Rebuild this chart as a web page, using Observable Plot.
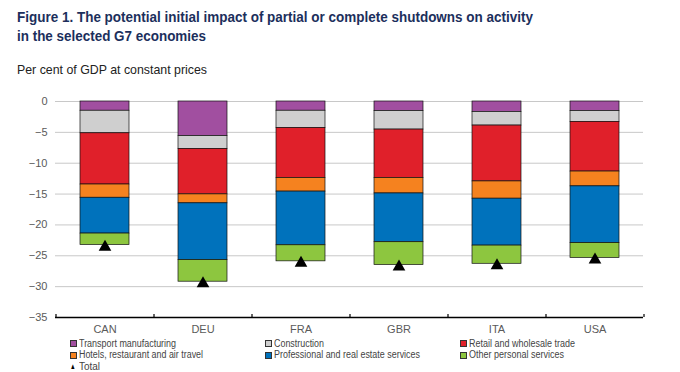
<!DOCTYPE html>
<html>
<head>
<meta charset="utf-8">
<script src="https://cdn.jsdelivr.net/npm/d3@7"></script>
<script src="https://cdn.jsdelivr.net/npm/@observablehq/plot@0.6"></script>
<style>
  html, body { margin: 0; padding: 0; background: #fff; }
  body { width: 680px; height: 372px; position: relative; overflow: hidden; font-family: "Liberation Sans", Arial, sans-serif; }
  .fit { position: absolute; white-space: nowrap; transform-origin: 0 0; display: inline-block; }
  .title { font-weight: bold; font-size: 15.5px; line-height: 18px; color: #1c2f5c; }
  .sub { font-size: 13px; line-height: 15px; color: #222; }
  .leg { font-size: 10px; line-height: 11.5px; color: #444; }
  .sw { position: absolute; width: 5px; height: 5px; border: 1px solid #333; }
  #chart { position: absolute; left: 0; top: 85px; }
</style>
</head>
<body>
<div id="chart"></div>
<script>
const countries = ["CAN", "DEU", "FRA", "GBR", "ITA", "USA"];
const sectors = [
  "Transport manufacturing",
  "Construction",
  "Retail and wholesale trade",
  "Hotels, restaurant and air travel",
  "Professional and real estate services",
  "Other personal services"
];
const sectorColors = ["#a14fa0", "#cfcfcf", "#e0202a", "#f5821f", "#0072bc", "#8dc63f"];
const transport    = [-1.5, -5.6, -1.5, -1.55, -1.7, -1.55];
const construction = [-3.65, -2.1, -2.8, -3.0, -2.2, -1.75];
const retail       = [-8.3, -7.35, -8.1, -7.85, -9.05, -8.05];
const hotels       = [-2.15, -1.45, -2.2, -2.5, -2.8, -2.4];
const professional = [-5.8, -9.2, -8.7, -7.9, -7.6, -9.2];
const otherPersonal = [-1.85, -3.5, -2.6, -3.7, -2.95, -2.4];
const totals       = [-23.3, -29.2, -25.9, -26.5, -26.3, -25.35];
const yTicks = [0, -5, -10, -15, -20, -25, -30, -35];

const titleLines = [
  "Figure 1. The potential initial impact of partial or complete shutdowns on activity",
  "in the selected G7 economies"
];
const subtitle = "Per cent of GDP at constant prices";

const series = [transport, construction, retail, hotels, professional, otherPersonal];
const rows = [];
countries.forEach((c, i) => {
  series.forEach((s, j) => rows.push({country: c, sector: sectors[j], value: s[i]}));
});
const totalRows = countries.map((c, i) => ({country: c, total: totals[i]}));

const chart = Plot.plot({
  width: 680,
  height: 255,
  marginTop: 16,
  marginBottom: 23,
  marginLeft: 55,
  marginRight: 37,
  style: {fontFamily: "'Liberation Sans', Arial, sans-serif", background: "transparent"},
  x: {domain: countries, paddingInner: 0.5, paddingOuter: 0.25, label: null},
  y: {domain: [-35, 0], label: null},
  color: {domain: sectors, range: sectorColors},
  marks: [
    Plot.gridY(yTicks.filter(t => t > -35), {stroke: "#c8c8c8", strokeOpacity: 1, strokeWidth: 1}),
    Plot.axisY({ticks: yTicks, tickSize: 0, tickPadding: 8, fontSize: 11, fill: "#5a5a5a", label: null}),
    Plot.axisX({tickSize: 0, tickPadding: 8, fontSize: 11, fill: "#5a5a5a", label: null}),
    Plot.barY(rows, {x: "country", y: "value", fill: "sector", stroke: "#111", strokeWidth: 0.7}),
    Plot.ruleY([-35], {stroke: "#000", strokeWidth: 1.5}),
    Plot.ruleX(countries, {x: d => d, dx: -49, y1: -35, y2: -35, insetTop: -3, stroke: "#000", strokeWidth: 1.2}),
    Plot.ruleX(countries.slice(-1), {x: d => d, dx: 49, y1: -35, y2: -35, insetTop: -3, stroke: "#000", strokeWidth: 1.2}),
    Plot.dot(totalRows, {x: "country", y: "total", symbol: "triangle", r: 4.7, fill: "#000", stroke: "none", dy: 1.8})
  ]
});
document.getElementById("chart").appendChild(chart);

function addText(text, cls, left, top, targetWidth) {
  const el = document.createElement("span");
  el.className = "fit " + cls;
  el.textContent = text;
  el.style.left = left + "px";
  el.style.top = top + "px";
  document.body.appendChild(el);
  if (targetWidth) {
    const w = el.getBoundingClientRect().width;
    el.style.transform = `scaleX(${targetWidth / w})`;
  }
  return el;
}
addText(titleLines[0], "title", 17, 8, 516);
addText(titleLines[1], "title", 17, 26.5, 189);
addText(subtitle, "sub", 17, 62, 190);

// Legend
const legCols = [70, 265, 460];
const legRows = [337.5, 349, 360.5];
const legWidths = [97, 50, 106, 124, 146, 95];
sectors.forEach((s, j) => {
  const col = j % 3, row = Math.floor(j / 3);
  const sw = document.createElement("div");
  sw.className = "sw";
  sw.style.left = legCols[col] + "px";
  sw.style.top = (legRows[row] + 2.5) + "px";
  sw.style.background = sectorColors[j];
  document.body.appendChild(sw);
  addText(s, "leg", legCols[col] + 9, legRows[row], legWidths[j]);
});
const tri = addText("\u25B2", "leg", 70, legRows[2] + 1.5, 7);
tri.style.fontSize = "8px";
tri.style.lineHeight = "9px";
tri.style.color = "#000";
addText("Total", "leg", 79, legRows[2], 21);
</script>
</body>
</html>
